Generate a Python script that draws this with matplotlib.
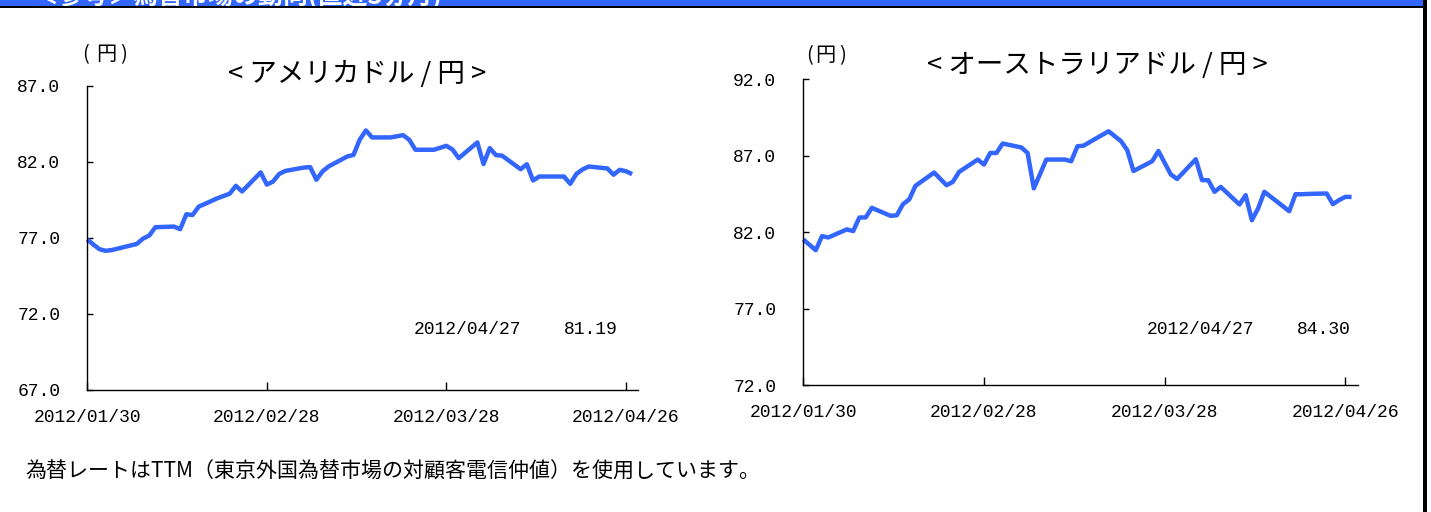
import datetime as dt

import matplotlib
matplotlib.use("Agg")
import matplotlib.pyplot as plt
from matplotlib.patches import Rectangle

# ---- data: TTM rates, business days 2012/01/30 - 2012/04/27 ----
dates = [
    "01/30", "01/31", "02/01", "02/02", "02/03",
    "02/06", "02/07", "02/08", "02/09", "02/10",
    "02/13", "02/14", "02/15", "02/16", "02/17",
    "02/20", "02/21", "02/22", "02/23", "02/24",
    "02/27", "02/28", "02/29", "03/01", "03/02",
    "03/05", "03/06", "03/07", "03/08", "03/09",
    "03/12", "03/13", "03/14", "03/15", "03/16",
    "03/19", "03/21", "03/22", "03/23",
    "03/26", "03/27", "03/28", "03/29", "03/30",
    "04/02", "04/03", "04/04", "04/05", "04/06",
    "04/09", "04/10", "04/11", "04/12", "04/13",
    "04/16", "04/17", "04/18", "04/19", "04/20",
    "04/23", "04/24", "04/25", "04/26", "04/27",
]

usd_jpy = [
    76.90, 76.55, 76.25, 76.15, 76.20,
    76.50, 76.60, 76.95, 77.15, 77.70,
    77.74, 77.57, 78.55, 78.50, 79.05,
    79.60, 79.75, 79.90, 80.42, 80.05,
    81.30, 80.50, 80.70, 81.20, 81.40,
    81.62, 81.65, 80.82, 81.37, 81.70,
    82.35, 82.45, 83.45, 84.06, 83.60,
    83.60, 83.75, 83.45, 82.79,
    82.79, 82.92, 83.05, 82.80, 82.24,
    83.27, 81.85, 82.90, 82.44, 82.40,
    81.51, 81.84, 80.77, 81.03, 81.03,
    81.03, 80.55, 81.20, 81.50, 81.69,
    81.56, 81.15, 81.47, 81.38, 81.19,
]

aud_jpy = [
    81.52, 81.17, 80.82, 81.74, 81.65,
    82.18, 82.07, 82.96, 82.96, 83.59,
    83.07, 83.10, 83.83, 84.14, 85.03,
    85.90, 85.48, 85.07, 85.29, 85.94,
    86.75, 86.42, 87.18, 87.18, 87.80,
    87.54, 87.18, 84.86, 85.80, 86.75,
    86.75, 86.64, 87.62, 87.66, 87.90,
    88.60, 87.95, 87.36, 86.00,
    86.64, 87.31, 86.53, 85.77, 85.48,
    86.77, 85.40, 85.40, 84.64, 84.96,
    83.81, 84.42, 82.78, 83.55, 84.64,
    83.69, 83.37, 84.48, 84.48, 84.50,
    84.53, 83.83, 84.10, 84.31, 84.30,
]

x_tick_dates = ["01/30", "02/28", "03/28", "04/26"]
usd_yticks = [67.0, 72.0, 77.0, 82.0, 87.0]
aud_yticks = [72.0, 77.0, 82.0, 87.0, 92.0]

usd_title = "< アメリカドル / 円 >"
aud_title = "< オーストラリアドル / 円 >"
usd_last = ("2012/04/27", "81.19")
aud_last = ("2012/04/27", "84.30")
footnote = "為替レートはTTM（東京外国為替市場の対顧客電信仲値）を使用しています。"
header = "＜参考＞為替市場の動向(直近3ヵ月)"

# ---- styling ----
LINE = "#3366ff"
JP = ["Noto Sans CJK JP", "DejaVu Sans"]
NUM = ["Liberation Mono", "DejaVu Sans Mono"]

W, H = 1431, 512
fig = plt.figure(figsize=(W / 100, H / 100), dpi=100)
fig.patch.set_facecolor("white")


def fx(px):
    return px / W


def fy(py):
    return 1 - py / H


def to_dt(s):
    m, d = s.split("/")
    return dt.datetime(2012, int(m), int(d))


xs = [to_dt(s) for s in dates]
x0 = to_dt("01/30")
x1 = x0 + dt.timedelta(days=89)


def unit_label(xs_px, y_px):
    # "(円)" drawn piece by piece so the bracket spacing can be set
    for ch, x in zip(("(", "円", ")"), xs_px):
        fig.text(fx(x), fy(y_px), ch, fontfamily=JP, fontsize=14.5,
                 ha="center", va="center")


def panel(rect, values, yticks, title, title_xy, unit_xs, unit_y, last, last_xy):
    ax = fig.add_axes(rect)
    ax.plot(xs, values, color=LINE, lw=3.2, solid_joinstyle="round",
            solid_capstyle="butt", clip_on=False)
    ax.set_xlim(x0, x1)
    ax.set_ylim(yticks[0], yticks[-1])
    ax.set_yticks(yticks)
    ax.set_yticklabels([f"{v:.1f}" for v in yticks], fontfamily=NUM, fontsize=13)
    ax.set_xticks([to_dt(s) for s in x_tick_dates])
    ax.set_xticklabels([f"2012/{s}" for s in x_tick_dates], fontfamily=NUM, fontsize=13)
    for side in ("top", "right"):
        ax.spines[side].set_visible(False)
    for side in ("left", "bottom"):
        ax.spines[side].set_color("black")
        ax.spines[side].set_linewidth(1.0)
    ax.tick_params(axis="y", direction="in", length=4, width=1, pad=19.5, colors="black")
    ax.tick_params(axis="x", direction="in", length=6, width=1, pad=14, colors="black")

    fig.text(fx(title_xy[0]), fy(title_xy[1]), title, fontfamily=JP, fontsize=19.8,
             ha="center", va="center")
    unit_label(unit_xs, unit_y)
    fig.text(fx(last_xy[0]), fy(last_xy[2]), last[0], fontfamily=NUM, fontsize=13,
             ha="center", va="center")
    fig.text(fx(last_xy[1]), fy(last_xy[2]), last[1], fontfamily=NUM, fontsize=13,
             ha="center", va="center")
    return ax


panel([fx(87.3), 1 - 390 / H, 551 / W, 304.3 / H], usd_jpy, usd_yticks,
      usd_title, (357.5, 74), (85, 106, 123.5), 55, usd_last, (467.6, 591, 329))
panel([fx(803.3), 1 - 385 / H, 554.5 / W, 305.7 / H], aud_jpy, aud_yticks,
      aud_title, (1097.5, 66), (809.5, 825.5, 842.5), 55.5, aud_last, (1200, 1324, 329))

fig.text(fx(25), fy(471.7), footnote, fontfamily=JP, fontsize=15.1, ha="left", va="center")

# header band, rule and right frame line
band = Rectangle((0, fy(5.7)), fx(1423), 5.7 / H, transform=fig.transFigure,
                 facecolor=LINE, edgecolor="none")
fig.add_artist(band)
head = fig.text(fx(33), fy(4.0), header, fontfamily=JP, fontsize=18, color="white",
                fontweight="bold", ha="left", va="baseline")
head.set_clip_path(band)
fig.add_artist(Rectangle((0, fy(8.3)), fx(1427), 2.6 / H, transform=fig.transFigure,
                         facecolor="black", edgecolor="none"))
fig.add_artist(Rectangle((fx(1423), 0), 4 / W, 1, transform=fig.transFigure,
                         facecolor="black", edgecolor="none"))

fig.savefig("out.png", dpi=100)
